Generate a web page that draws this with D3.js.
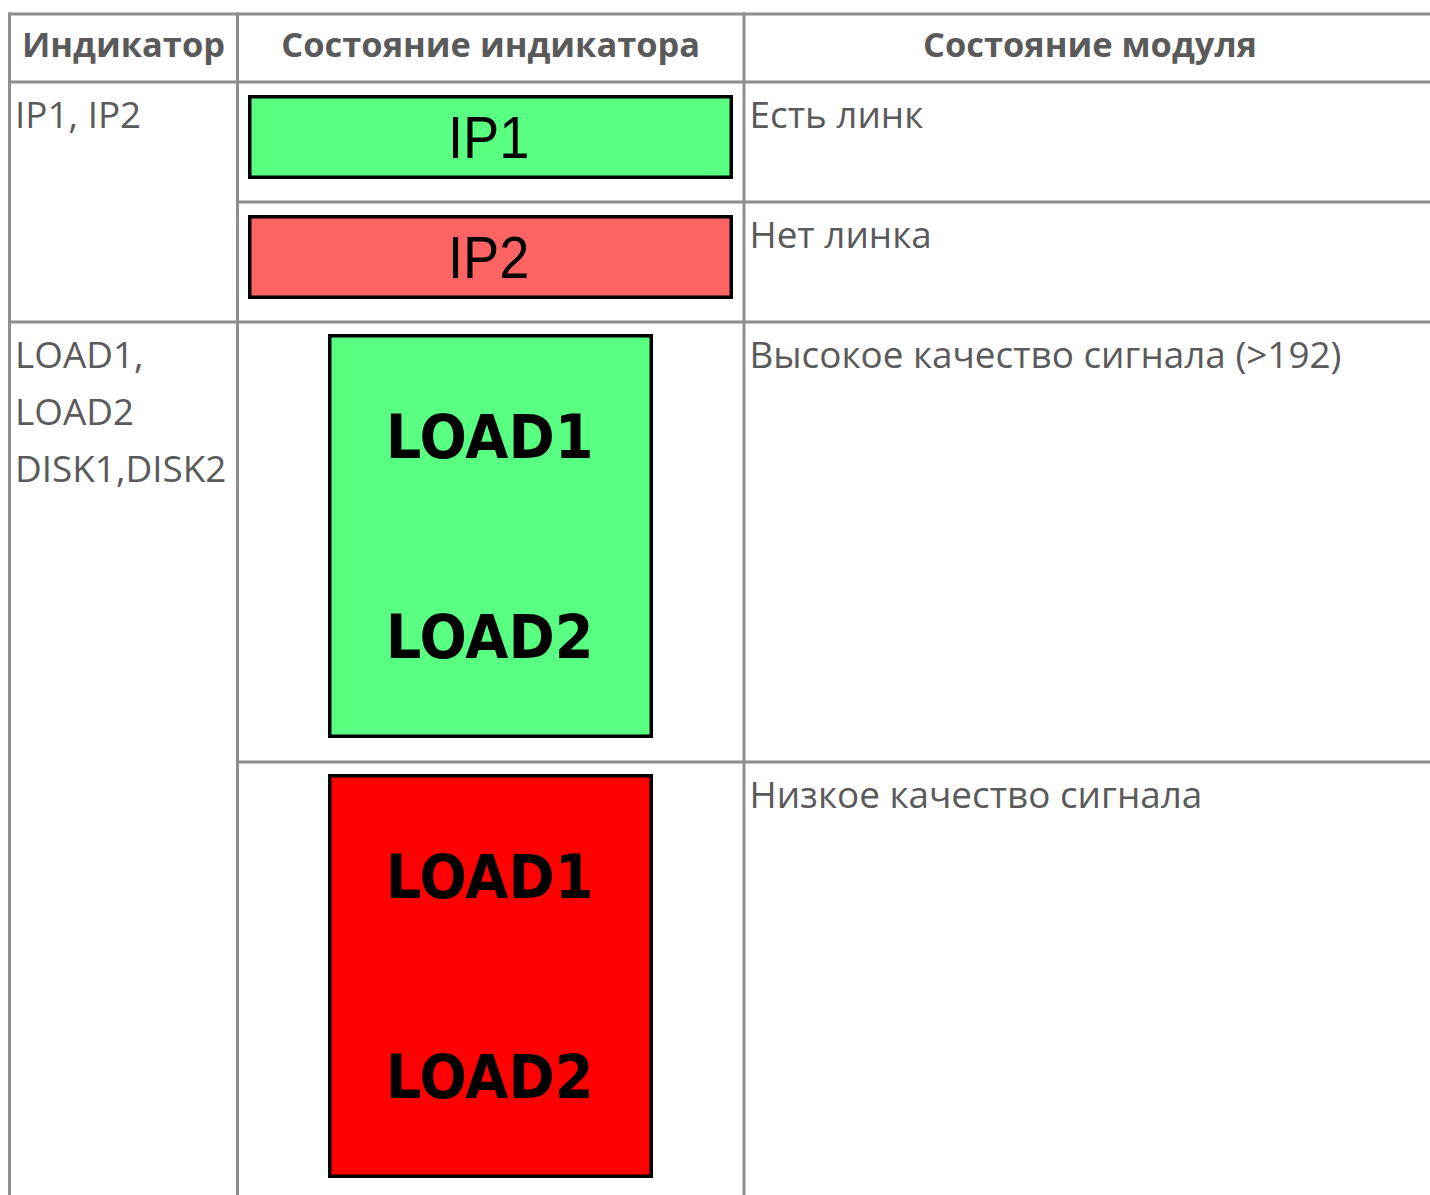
<!DOCTYPE html>
<html><head><meta charset="utf-8">
<script src="https://cdn.jsdelivr.net/npm/d3@7"></script>
<style>html,body{margin:0;padding:0;background:#fff;overflow:hidden}</style>
</head><body>
<svg id="c" width="1430" height="1195"></svg>
<script>
// ---- data ----
const headers = ["Индикатор", "Состояние индикатора", "Состояние модуля"];
const indicatorGroups = [["IP1, IP2"], ["LOAD1,", "LOAD2", "DISK1,DISK2"]];
const rowGroup = [0, 0, 1, 1];
const rowKind = ["ip", "ip", "load", "load"];
const rowStatus = ["ok", "fail", "ok", "fail"];
const indicatorLabels = [["IP1"], ["IP2"], ["LOAD1", "LOAD2"], ["LOAD1", "LOAD2"]];
const moduleStates = ["Есть линк", "Нет линка", "Высокое качество сигнала (>192)", "Низкое качество сигнала"];

// ---- layout ----
const svg = d3.select("#c");
const colEdges = [9.5, 237.5, 744, 1436];
const rowEdges = [14, 82, 202, 322, 762, 1202];
const lineColor = "#8e8e8e", textColor = "#5a5a5a";
const color = d3.scaleOrdinal()
  .domain(["ip-ok", "ip-fail", "load-ok", "load-fail"])
  .range(["#58ff80", "#ff6464", "#58ff80", "#ff0000"]);

function fitSize(family, weight, sample, target, base) {
  const t = svg.append("text").attr("font-family", family).attr("font-weight", weight)
    .attr("font-size", base).text(sample);
  const w = t.node().getComputedTextLength(); t.remove();
  return base * target / w;
}
const bodyFont = "'Open Sans', sans-serif";
const bodySize = fitSize(bodyFont, 400, "Высокое качество сигнала (>192)", 592, 34);
const headSize = fitSize(bodyFont, 700, "Состояние индикатора", 419, 33);

// header
svg.append("g").selectAll("text").data(headers).join("text")
  .attr("x", (d, i) => (colEdges[i] + colEdges[i + 1]) / 2)
  .attr("y", 57).attr("text-anchor", "middle")
  .attr("font-family", bodyFont).attr("font-weight", 700).attr("font-size", headSize)
  .attr("fill", textColor).text(d => d);

// indicator group text (column 1)
const groupTop = indicatorGroups.map((g, gi) => rowEdges[1 + rowGroup.indexOf(gi)]);
const gGroups = svg.append("g");
indicatorGroups.forEach((lines, gi) => {
  gGroups.selectAll(null).data(lines).join("text")
    .attr("x", 15).attr("y", (d, li) => groupTop[gi] + 46 + li * 57)
    .attr("font-family", bodyFont).attr("font-size", bodySize).attr("fill", textColor)
    .text(d => d);
});

// module state text (column 3)
svg.append("g").selectAll("text").data(moduleStates).join("text")
  .attr("x", colEdges[2] + 5.5).attr("y", (d, i) => rowEdges[i + 1] + 46)
  .attr("font-family", bodyFont).attr("font-size", bodySize).attr("fill", textColor)
  .text(d => d);

// indicator boxes (column 2)
const boxG = svg.append("g");
indicatorLabels.forEach((labels, i) => {
  const kind = rowKind[i];
  const top = rowEdges[i + 1];
  const cx = (colEdges[1] + colEdges[2]) / 2;
  let x0, x1, y0, y1;
  if (kind === "ip") { x0 = 248; x1 = 733; y0 = top + 13; y1 = top + 97; }
  else { x0 = 328; x1 = 653; y0 = top + 12; y1 = top + 416; }
  boxG.append("rect")
    .attr("x", x0 + 1.75).attr("y", y0 + 1.75)
    .attr("width", x1 - x0 - 3.5).attr("height", y1 - y0 - 3.5)
    .attr("fill", color(kind + "-" + rowStatus[i]))
    .attr("stroke", "#000").attr("stroke-width", 3.5);
  const mid = (y0 + y1) / 2;
  labels.forEach((lab, li) => {
    let ty, fam, fw, fs, sx, dx;
    if (kind === "ip") { ty = mid + 21; fam = "'Liberation Sans', Arial, sans-serif"; fw = 400; fs = 59; sx = 0.92; dx = -2; }
    else { ty = mid - 100 + li * 200 + 22; fam = "'DejaVu Sans', Verdana, sans-serif"; fw = 700; fs = 60; sx = 0.93; dx = -1; }
    boxG.append("text")
      .attr("transform", `translate(${cx + dx},${ty}) scale(${sx},1)`)
      .attr("text-anchor", "middle")
      .attr("font-family", fam).attr("font-weight", fw).attr("font-size", fs)
      .attr("fill", "#000").text(lab);
  });
});

// grid lines
const lines = svg.append("g").attr("stroke", lineColor).attr("stroke-width", 3);
const hLines = [
  { y: rowEdges[0], x0: 8 }, { y: rowEdges[1], x0: 8 }, { y: rowEdges[2], x0: colEdges[1] },
  { y: rowEdges[3], x0: 8 }, { y: rowEdges[4], x0: colEdges[1] }
];
lines.selectAll("line.h").data(hLines).join("line").attr("class", "h")
  .attr("x1", d => d.x0).attr("x2", 1430).attr("y1", d => d.y).attr("y2", d => d.y);
lines.selectAll("line.v").data(colEdges.slice(0, 3)).join("line").attr("class", "v")
  .attr("x1", d => d).attr("x2", d => d).attr("y1", rowEdges[0] - 1.5).attr("y2", 1195);
</script>
</body></html>
